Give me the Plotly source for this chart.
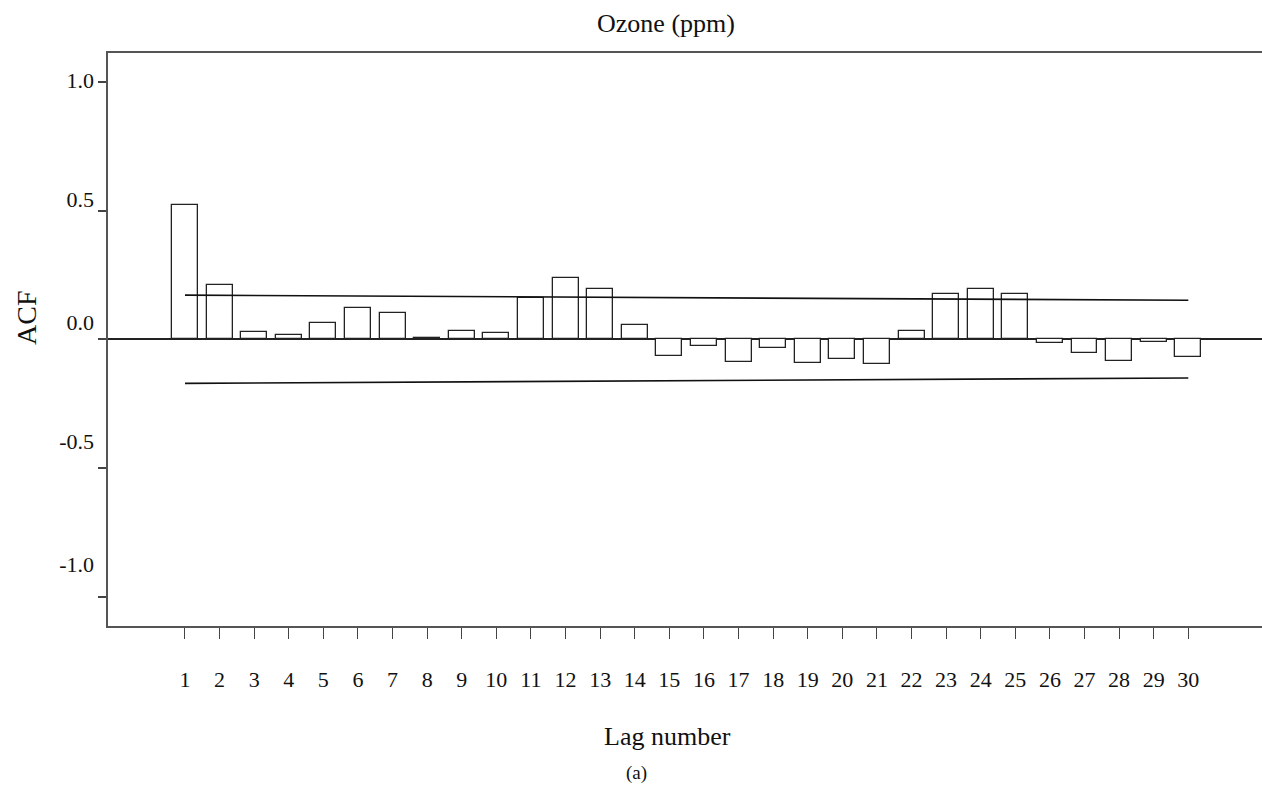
import plotly.graph_objects as go

lags = list(range(1, 31))
acf = [0.521, 0.21, 0.030, 0.016, 0.063, 0.122, 0.101, 0.005, 0.031, 0.026,
       0.162, 0.238, 0.197, 0.057, -0.064, -0.026, -0.086, -0.032, -0.091, -0.078,
       -0.095, 0.031, 0.175, 0.197, 0.175, -0.013, -0.052, -0.083, -0.010, -0.069]
ci_lags = [1, 30]
ci_upper = [0.172, 0.152]
ci_lower = [-0.171, -0.150]
ytick_vals = [-1.0, -0.5, 0.0, 0.5, 1.0]
ytick_text = ["-1.0", "-0.5", "0.0", "0.5", "1.0"]
ylabel_pos = [-0.874, -0.395, 0.065, 0.546, 1.005]

FONT = "Liberation Serif, Times New Roman, serif"
W, H = 1262, 787
L, R, T, B = 108, 0, 53, 161
PW, PH = W - L - R, H - T - B


def px_x(px):
    return (px - L) / PW


def px_y(py):
    return 1 - (py - T) / PH


fig = go.Figure()
fig.add_trace(go.Bar(x=lags, y=acf, width=0.75,
                     marker=dict(color="white", line=dict(color="#222", width=1.3)),
                     showlegend=False))
fig.add_trace(go.Scatter(x=ci_lags, y=ci_upper, mode="lines",
                         line=dict(color="#111", width=1.6), showlegend=False))
fig.add_trace(go.Scatter(x=ci_lags, y=ci_lower, mode="lines",
                         line=dict(color="#111", width=1.6), showlegend=False))
# invisible trace for label axis
fig.add_trace(go.Scatter(x=[lags[0]], y=[0], yaxis="y2", mode="markers",
                         marker=dict(opacity=0), showlegend=False, hoverinfo="skip"))

yr = [-1.114, 1.113]
fig.update_layout(
    width=W, height=H,
    margin=dict(l=L, r=R, t=T, b=B),
    paper_bgcolor="white", plot_bgcolor="white",
    font=dict(family=FONT, color="#111"),
    title=dict(text="Ozone (ppm)", x=px_x(666), xref="paper", xanchor="center",
               y=1 - 23 / H, yref="container", yanchor="middle",
               font=dict(family=FONT, size=26, color="#111")),
    xaxis=dict(range=[-1.225, 32.13], tickvals=lags, ticktext=[str(v) for v in lags],
               ticks="outside", ticklen=11, tickwidth=1.2, tickcolor="#444",
               showline=True, linecolor="#555", linewidth=1.6, mirror=True,
               showgrid=False, zeroline=False, ticklabelstandoff=22,
               tickfont=dict(family=FONT, size=22, color="#111")),
    yaxis=dict(range=yr, tickvals=ytick_vals, showticklabels=False,
               ticks="outside", ticklen=8, tickwidth=1.5, tickcolor="#444",
               showline=True, linecolor="#555", linewidth=1.6,
               showgrid=False, zeroline=True, zerolinecolor="#222", zerolinewidth=1.6),
    yaxis2=dict(range=yr, overlaying="y", side="left", tickvals=ylabel_pos,
                ticktext=ytick_text, ticks="", showline=False, showgrid=False,
                zeroline=False, ticklabelstandoff=13,
                tickfont=dict(family=FONT, size=22, color="#111")),
    bargap=0,
    annotations=[
        dict(text="ACF", textangle=-90, xref="paper", yref="paper",
             x=px_x(26), y=px_y(318),
             xanchor="center", yanchor="middle", showarrow=False,
             font=dict(family=FONT, size=28, color="#111")),
        dict(text="Lag number", xref="paper", yref="paper",
             x=px_x(667), y=px_y(736),
             xanchor="center", yanchor="middle", showarrow=False,
             font=dict(family=FONT, size=26, color="#111")),
        dict(text="(a)", xref="paper", yref="paper",
             x=px_x(636), y=px_y(773),
             xanchor="center", yanchor="middle", showarrow=False,
             font=dict(family=FONT, size=19, color="#111")),
    ],
)

fig.write_html("out.html", config={"displayModeBar": False},
               post_script="document.body.style.margin='0';document.body.style.overflow='hidden';")
